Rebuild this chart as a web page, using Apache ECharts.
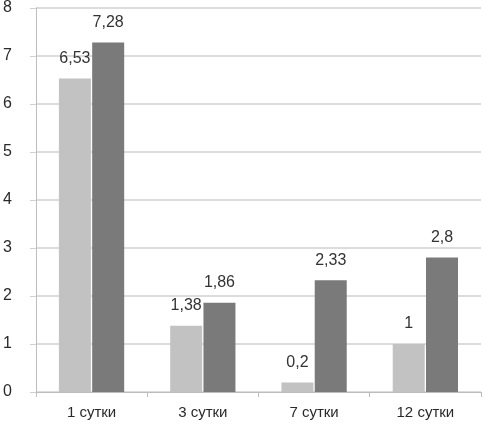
<!DOCTYPE html>
<html>
<head>
<meta charset="utf-8">
<script src="https://cdn.jsdelivr.net/npm/echarts@6/dist/echarts.min.js"></script>
<style>
html, body { margin: 0; padding: 0; background: #fff; }
#container { width: 483px; height: 431px; }
</style>
</head>
<body>
<div id="container"></div>
<script>
var categories = ['1 сутки', '3 сутки', '7 сутки', '12 сутки'];
var seriesLight = [6.53, 1.38, 0.2, 1];
var seriesDark = [7.28, 1.86, 2.33, 2.8];
var yTicks = [0, 1, 2, 3, 4, 5, 6, 7, 8];

var dom = document.getElementById('container');
var myChart = echarts.init(dom);

var labelStyle = {
	show: true,
	position: 'top',
	distance: 12,
	color: '#333',
	fontFamily: 'Liberation Sans',
	fontSize: 16,
	formatter: function (p) {
		return String(p.value).replace('.', ',');
	}
};

var option = {
	animation: false,
	backgroundColor: '#fff',
	grid: {
		left: 30,
		right: 2,
		top: 5,
		bottom: 39
	},
	xAxis: {
		type: 'category',
		data: categories,
		axisLine: { lineStyle: { color: '#bdbdbd', width: 1 } },
		axisTick: { show: true, length: 5, lineStyle: { color: '#bdbdbd' } },
		axisLabel: {
			color: '#2a2a2a',
			fontFamily: 'Liberation Sans',
			fontSize: 15,
			margin: 13
		}
	},
	yAxis: {
		type: 'value',
		min: yTicks[0],
		max: yTicks[yTicks.length - 1],
		interval: 1,
		axisLine: { show: true, lineStyle: { color: '#bdbdbd' } },
		axisTick: { show: true, length: 6, lineStyle: { color: '#cfcfcf' } },
		splitLine: { lineStyle: { color: '#d0d0d0', width: 1.5 } },
		axisLabel: {
			color: '#2a2a2a',
			fontFamily: 'Liberation Sans',
			fontSize: 16,
			margin: 24
		}
	},
	series: [{
		type: 'bar',
		data: seriesLight,
		barWidth: 32,
		barGap: '4%',
		itemStyle: { color: '#c2c2c2' },
		label: labelStyle
	}, {
		type: 'bar',
		data: seriesDark,
		barWidth: 32,
		barGap: '4%',
		itemStyle: { color: '#7a7a7a' },
		label: labelStyle
	}]
};

myChart.setOption(option);
</script>
</body>
</html>
